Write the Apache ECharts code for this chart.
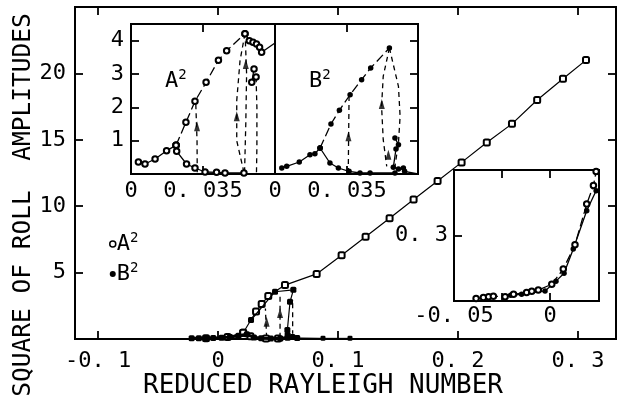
<!DOCTYPE html>
<html>
<head>
<meta charset="utf-8">
<script src="https://cdn.jsdelivr.net/npm/echarts@6/dist/echarts.min.js"></script>
<style>
  html, body { margin: 0; padding: 0; background: #fff; }
  #chart { width: 620px; height: 400px; }
</style>
</head>
<body>
<div id="chart"></div>
<script>
const FONT = "DejaVu Sans Mono";

// --- tick values / labels ---
const mainXTicks = [-0.1, 0, 0.1, 0.2, 0.3];
const mainXLabels = ["-0. 1", "0", "0. 1", "0. 2", "0. 3"];
const mainYTicks = [5, 10, 15, 20];
const mainYLabels = ["5", "10", "15", "20"];
const insetABXLabelTicks = [0, 0.035];
const insetABXLabels = ["0", "0. 035"];
const insetABYTicks = [1, 2, 3, 4];
const insetABYLabels = ["1", "2", "3", "4"];
const insetCXLabelTicks = [-0.05, 0];
const insetCXLabels = ["-0. 05", "0"];
const insetCXTicks = [-0.025, 0];
const insetCYTicks = [0.3];
const insetCYLabels = ["0. 3"];

// --- main plot data [reduced Rayleigh number, amplitude^2] ---
const mainA2Upper = [[0.021, 0.47], [0.0317, 2.07], [0.0364, 2.63], [0.0419, 3.23], [0.0558, 4.06],
  [0.0822, 4.9], [0.103, 6.3], [0.123, 7.7], [0.143, 9.1], [0.163, 10.5], [0.183, 11.9],
  [0.203, 13.3], [0.224, 14.8], [0.245, 16.2], [0.266, 18.0], [0.2875, 19.6], [0.3067, 21.0]];
const mainA2Lower = [[-0.01, 0.06], [0.008, 0.15], [0.021, 0.47], [0.027, 0.2], [0.04, 0.04], [0.05, 0.03]];
const mainB2Upper = [[0.0275, 1.43], [0.0475, 3.56], [0.0628, 3.7], [0.06, 2.8], [0.0578, 0.68], [0.058, 0.3]];
const mainB2Lower = [[-0.022, 0.05], [-0.016, 0.06], [-0.01, 0.06], [-0.004, 0.08], [0.003, 0.1],
  [0.01, 0.15], [0.017, 0.25], [0.024, 0.35], [0.03, 0.12], [0.036, 0.05], [0.044, 0.04],
  [0.052, 0.04], [0.058, 0.1], [0.062, 0.15], [0.066, 0.08]];
const mainB2Tail = [[0.066, 0.08], [0.0875, 0.05], [0.11, 0.05]];
const mainDash1 = [[0.0405, 0.1], [0.0395, 2.3]];
const mainDash2 = [[0.0517, 0.1], [0.0517, 3.4]];
const mainDash3 = [[0.0622, 2.7], [0.0622, 0.4]];
const mainArrows = [[0.0405, 1.3], [0.0517, 1.95]];

// --- inset A^2 ---
const insA_low = [[0.0036, 0.36], [0.0068, 0.30], [0.0117, 0.45], [0.0173, 0.70], [0.0219, 0.86]];
const insA_drop = [[0.0219, 0.86], [0.0222, 0.68], [0.027, 0.30], [0.0311, 0.18], [0.036, 0.06],
  [0.0416, 0.05], [0.0457, 0.03], [0.0549, 0.03]];
const insA_up = [[0.0219, 0.86], [0.0267, 1.55], [0.0311, 2.18], [0.0365, 2.75], [0.0425, 3.41],
  [0.0465, 3.70], [0.0554, 4.21]];
const insA_top = [[0.0554, 4.21], [0.0575, 4.0], [0.0593, 3.95], [0.061, 3.9], [0.0625, 3.8], [0.0635, 3.65]];
const insA_exit = [[0.0635, 3.65], [0.070, 3.93]];
const insA_fall = [[0.0598, 3.15], [0.0587, 2.75], [0.0608, 2.91]];
const insA_dash1 = [[0.0322, 0.05], [0.0321, 1.0], [0.0315, 2.1]];
const insA_dash2 = [[0.0549, 0.05], [0.0514, 1.0], [0.0514, 2.2], [0.053, 3.4], [0.0554, 4.21]];
const insA_dash3 = [[0.0552, 0.05], [0.0558, 1.5], [0.0562, 3.0], [0.0556, 4.0]];
const insA_dash4 = [[0.0608, 2.9], [0.0612, 2.0], [0.0612, 0.8], [0.061, 0.05]];
const insA_arrows = [[0.0321, 1.43], [0.0514, 1.73], [0.0558, 3.3]];

// --- inset B^2 ---
const insB_low = [[0.0033, 0.18], [0.0057, 0.23], [0.0118, 0.36], [0.017, 0.58], [0.0194, 0.61], [0.0219, 0.78]];
const insB_drop = [[0.0219, 0.78], [0.0267, 0.33], [0.0308, 0.18], [0.036, 0.08], [0.0413, 0.03],
  [0.0462, 0.03], [0.0583, 0.03]];
const insB_up = [[0.0219, 0.78], [0.0272, 1.50], [0.0313, 1.91], [0.0365, 2.38], [0.0421, 2.83],
  [0.0465, 3.18], [0.0556, 3.78]];
const insB_cluster = [[0.0583, 1.08], [0.06, 0.88], [0.0588, 0.75], [0.0575, 0.2], [0.06, 0.15],
  [0.0624, 0.18], [0.063, 0.08]];
const insB_exit = [[0.063, 0.08], [0.0695, 0.0]];
const insB_dash1 = [[0.0356, 0.03], [0.0358, 1.2], [0.036, 2.33]];
const insB_dash2 = [[0.0556, 3.78], [0.0526, 2.93], [0.0518, 2.03], [0.0526, 1.03], [0.0543, 0.23]];
const insB_dash3 = [[0.0556, 3.78], [0.06, 2.63], [0.0608, 1.73], [0.06, 0.93], [0.0583, 0.23]];
const insB_arrows = [[0.0357, 1.13], [0.0519, 2.1], [0.0551, 0.58]];

// --- inset near onset ---
const insC_A2 = [[-0.0385, 0.011], [-0.0347, 0.016], [-0.032, 0.019], [-0.0295, 0.022], [-0.0234, 0.019],
  [-0.019, 0.031], [-0.0122, 0.039], [-0.0095, 0.045], [-0.0061, 0.05], [0.0009, 0.077],
  [0.0069, 0.146], [0.013, 0.258], [0.0191, 0.444], [0.0226, 0.529], [0.024, 0.593]];
const insC_B2 = [[-0.0205, 0.026], [-0.0148, 0.031], [-0.0026, 0.046], [0.0031, 0.091], [0.0073, 0.127],
  [0.0121, 0.238], [0.0191, 0.413], [0.024, 0.505]];

const BLACK = "#000";
const tickLine = { color: BLACK, width: 1.8 };

function labelFrom(ticks, labels) {
  return (v) => {
    const i = ticks.findIndex((t) => Math.abs(t - v) < 1e-9);
    return i >= 0 ? labels[i] : "";
  };
}

// one value axis; ticks inside, labels only when given
function axis(gridIndex, min, max, position, tickVals, labelVals, labels, margin) {
  return {
    type: "value",
    gridIndex: gridIndex,
    min: min,
    max: max,
    position: position,
    axisLine: { show: false, onZero: false },
    splitLine: { show: false },
    axisTick: { show: true, inside: true, length: 8, customValues: tickVals, lineStyle: tickLine },
    axisLabel: {
      show: !!labels,
      customValues: labelVals || [],
      formatter: labels ? labelFrom(labelVals, labels) : "",
      color: BLACK,
      fontFamily: FONT,
      fontSize: 22,
      margin: margin == null ? 9 : margin,
    },
  };
}

function line(name, data, xi, yi, symbol, lineType, width, size, z) {
  return {
    type: "line",
    name: name,
    data: data,
    xAxisIndex: xi,
    yAxisIndex: yi,
    symbol: symbol || "none",
    symbolSize: size || 5.5,
    showSymbol: !!symbol,
    lineStyle: { color: BLACK, width: width || 1.3, type: lineType || "solid" },
    itemStyle: { color: BLACK, borderWidth: 1.6 },
    animation: false,
    z: z || 3,
  };
}

function arrows(data, xi, yi) {
  return {
    type: "scatter",
    data: data,
    xAxisIndex: xi,
    yAxisIndex: yi,
    symbol: "triangle",
    symbolSize: [6, 10],
    itemStyle: { color: BLACK },
    animation: false,
    z: 6,
  };
}

const DASH = [5, 4];
const LONGDASH = [9, 4];
const supRich = {
  t: { fontFamily: FONT, fontSize: 22, color: BLACK },
  s: { fontFamily: FONT, fontSize: 14, color: BLACK, padding: [0, 0, 12, 0] },
};

const chart = echarts.init(document.getElementById("chart"), null, { renderer: "canvas" });

chart.setOption({
  backgroundColor: "#fff",
  animation: false,
  grid: [
    { left: 75, top: 7, width: 541, height: 332 },
    { left: 131, top: 24, width: 144, height: 150 },
    { left: 275, top: 24, width: 143, height: 150 },
    { left: 454, top: 170, width: 145, height: 131 },
  ].map((g) => Object.assign(g, { show: true, backgroundColor: "#fff", borderColor: BLACK, borderWidth: 2 })),
  xAxis: [
    axis(0, -0.1192, 0.3317, "bottom", mainXTicks, mainXTicks, mainXLabels, 11),
    axis(0, -0.1192, 0.3317, "top", mainXTicks),
    axis(1, 0, 0.070, "bottom", [0.035], insetABXLabelTicks, insetABXLabels, 6),
    axis(1, 0, 0.070, "top", [0.035]),
    axis(2, 0, 0.0695, "bottom", [0.035], insetABXLabelTicks, insetABXLabels, 6),
    axis(2, 0, 0.0695, "top", [0.035]),
    axis(3, -0.05, 0.0255, "bottom", insetCXTicks, insetCXLabelTicks, insetCXLabels, 4),
    axis(3, -0.05, 0.0255, "top", insetCXTicks),
  ],
  yAxis: [
    axis(0, 0, 25, "left", mainYTicks, mainYTicks, mainYLabels),
    axis(0, 0, 25, "right", mainYTicks),
    axis(1, 0, 4.5, "left", insetABYTicks, insetABYTicks, insetABYLabels, 7),
    axis(2, 0, 4.5, "right", insetABYTicks),
    axis(3, 0, 0.6, "left", insetCYTicks, insetCYTicks, insetCYLabels, 6),
  ],
  legend: {
    orient: "vertical",
    left: 104,
    top: 226,
    itemWidth: 6,
    itemHeight: 6,
    itemGap: 6,
    selectedMode: false,
    data: [
      { name: "A²", icon: "circle", itemStyle: { color: "#fff", borderColor: BLACK, borderWidth: 1.5 } },
      { name: "B²", icon: "circle", itemStyle: { color: BLACK } },
    ],
    formatter: (name) => (name === "A²" ? "{t|A}{s|2}" : "{t|B}{s|2}"),
    textStyle: { padding: [0, 0, 0, -4], rich: supRich },
  },
  graphic: [
    { type: "text", x: 323, y: 386, style: { text: "REDUCED RAYLEIGH NUMBER", font: "26px " + FONT, fill: BLACK, align: "center", verticalAlign: "middle" } },
    { type: "text", x: 24, y: 205, rotation: Math.PI / 2, style: { text: "SQUARE OF ROLL  AMPLITUDES", font: "24.5px " + FONT, fill: BLACK, align: "center", verticalAlign: "middle" } },
    { type: "text", x: 165, y: 68, z: 100, style: { text: "{t|A}{s|2}", rich: supRich } },
    { type: "text", x: 309, y: 68, z: 100, style: { text: "{t|B}{s|2}", rich: supRich } },
  ],
  series: [
    // main plot
    line("A²", mainA2Upper, 0, 0, "emptyRoundRect", "solid", 1.2, 6, 4),
    line("A²", mainA2Lower, 0, 0, "emptyRoundRect", "solid", 1.2, 6, 3),
    line("B²", mainB2Lower, 0, 0, "roundRect", "solid", 3, 6, 5),
    line("B²", mainB2Tail, 0, 0, "roundRect", "solid", 1, 5, 5),
    line("B²", mainB2Upper, 0, 0, "roundRect", "solid", 1.2, 6, 5),
    line("d", mainDash1, 0, 0, null, DASH),
    line("d", mainDash2, 0, 0, null, DASH),
    line("d", mainDash3, 0, 0, null, DASH),
    arrows(mainArrows, 0, 0),
    // inset A^2
    line("ia", insA_low, 2, 2, "emptyCircle", "solid", 1.3, 5.5, 4),
    line("ia", insA_drop, 2, 2, "emptyCircle", "solid", 1.3, 5.5, 4),
    line("ia", insA_up, 2, 2, "emptyCircle", LONGDASH, 1.3, 5.5, 4),
    line("ia", insA_top, 2, 2, "emptyCircle", "solid", 1.3, 5.5, 4),
    line("ia", insA_exit, 2, 2, null, "solid"),
    line("ia", insA_fall, 2, 2, "emptyCircle", "solid", 1.3, 5.5, 4),
    line("d", insA_dash1, 2, 2, null, DASH),
    line("d", insA_dash2, 2, 2, null, DASH),
    line("d", insA_dash3, 2, 2, null, DASH),
    line("d", insA_dash4, 2, 2, null, DASH),
    arrows(insA_arrows, 2, 2),
    // inset B^2
    line("ib", insB_low, 4, 3, "circle", "solid"),
    line("ib", insB_drop, 4, 3, "circle", "solid"),
    line("ib", insB_up, 4, 3, "circle", LONGDASH),
    line("ib", insB_cluster, 4, 3, "circle", "solid"),
    line("ib", insB_exit, 4, 3, null, "solid"),
    line("d", insB_dash1, 4, 3, null, DASH),
    line("d", insB_dash2, 4, 3, null, DASH),
    line("d", insB_dash3, 4, 3, null, DASH),
    arrows(insB_arrows, 4, 3),
    // inset near onset
    line("ic", insC_A2, 6, 4, "emptyCircle", LONGDASH, 1.3, 5.5, 4),
    line("ic", insC_B2, 6, 4, "circle", "none"),
  ],
});
</script>
</body>
</html>
